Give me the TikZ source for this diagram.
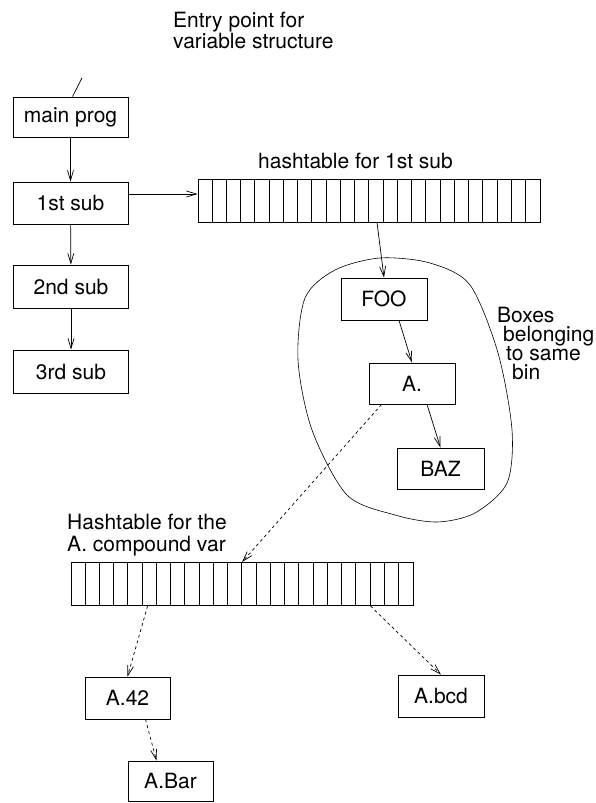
\documentclass[tikz,border=0pt]{standalone}
\usepackage{fontspec}
\setmainfont{TeX Gyre Heros}
\usetikzlibrary{arrows.meta}

\begin{document}
\begin{tikzpicture}[x=1pt, y=-1pt,
		box/.style={draw, line width=0.8pt, minimum width=86pt, minimum height=42pt, inner sep=0pt, font=\fontsize{21}{19}\selectfont},
		subbox/.style={box, minimum width=115pt},
		hashrow/.style={draw, line width=0.8pt, minimum width=342pt, minimum height=43pt, inner sep=0pt},
		lbl/.style={align=left, inner sep=0pt, font=\fontsize{21}{19}\selectfont},
		link/.style={line width=0.7pt, -{Straight Barb[length=10pt,width=6pt]}},
		farlink/.style={link, dashed}]
		
		\useasboundingbox (0,0) rectangle (596,803);
		
		%------------------------------------------------
		% Labels
		%------------------------------------------------
		\node [lbl, anchor=north west] (entrytxt) at (173,12) {Entry point for\\variable structure};
		\node [lbl, anchor=base west] (ht1txt) at (258,168) {hashtable for 1st sub};
		\node [lbl, anchor=north west] (bintxt) at (497,307) {Boxes\\\hspace*{6pt}belonging\\\hspace*{9pt}to same\\\hspace*{15pt}bin};
		\node [lbl, anchor=north west, font=\fontsize{21}{22}\selectfont] (ht2txt) at (67,514) {Hashtable for the\\A. compound var};
		
		%------------------------------------------------
		% Call chain
		%------------------------------------------------
		\coordinate (entry) at (82,78);
		\node [subbox, minimum height=40pt] (mainprog) at (70.5,117) {main prog};
		\node [subbox] (sub1) at (70.5,203) {1st sub};
		\node [subbox, minimum height=43pt] (sub2) at (71,286.5) {2nd sub};
		\node [subbox, minimum height=43pt] (sub3) at (71,371.5) {3rd sub};
		
		%------------------------------------------------
		% Hashtables
		%------------------------------------------------
		\node [hashrow] (ht1) at (369,200.5) {};
		\node [hashrow] (ht2) at (242,584) {};
		\foreach \k in {1,...,23}{
			\draw [line width=0.6pt] ([xshift=\k*14.25pt]ht1.north west) -- ([xshift=\k*14.25pt]ht1.south west);
			\draw [line width=0.6pt] ([xshift=\k*14.25pt]ht2.north west) -- ([xshift=\k*14.25pt]ht2.south west);
		}
		
		%------------------------------------------------
		% Variable boxes
		%------------------------------------------------
		\node [box] (foo) at (384,299) {FOO};
		\node [box, minimum height=41pt] (adot) at (412,383.5) {A.};
		\node [box, minimum height=41pt, minimum width=87pt] (baz) at (440.5,468.5) {BAZ};
		\node [box, minimum width=85pt] (a42) at (127.5,698) {A.42};
		\node [box, minimum width=85pt, minimum height=40pt] (abar) at (170.5,781) {A.Bar};
		\node [box] (abcd) at (441,696) {A.bcd};
		
		% same bin
		\draw [line width=0.6pt] plot [smooth cycle] coordinates {(380,258) (430,263) (470,285) (498,353) (512,430) (507,483) (475,513) (437,522) (395,515) (347,495) (312,430) (298,360) (305,298) (335,270)};
		
		%------------------------------------------------
		% Links
		%------------------------------------------------
		\draw [line width=0.7pt] (entry) -- ([xshift=2pt]mainprog.north);
		\draw [link] (mainprog) -- (sub1);
		\draw [link] (sub1) -- (sub2);
		\draw [link] (sub2) -- (sub3);
		\draw [link] ([yshift=9pt]sub1.east) -- ([yshift=9pt]sub1.east -| ht1.west);
		
		\draw [link] ([xshift=8pt]ht1.south) -- (foo.north);
		\draw [link] ([xshift=15pt]foo.south) -- (adot.north);
		\draw [link] ([xshift=15pt]adot.south) -- (baz.north);
		
		\draw [farlink] ([xshift=13pt]adot.south west) -- (ht2.north);
		\draw [farlink] ([xshift=77pt]ht2.south west) -- (a42.north);
		\draw [farlink] ([xshift=18pt]a42.south) -- ([xshift=-14pt]abar.north);
		\draw [farlink] ([xshift=-43pt]ht2.south east) -- (abcd.north);
		
	\end{tikzpicture}
\end{document}
